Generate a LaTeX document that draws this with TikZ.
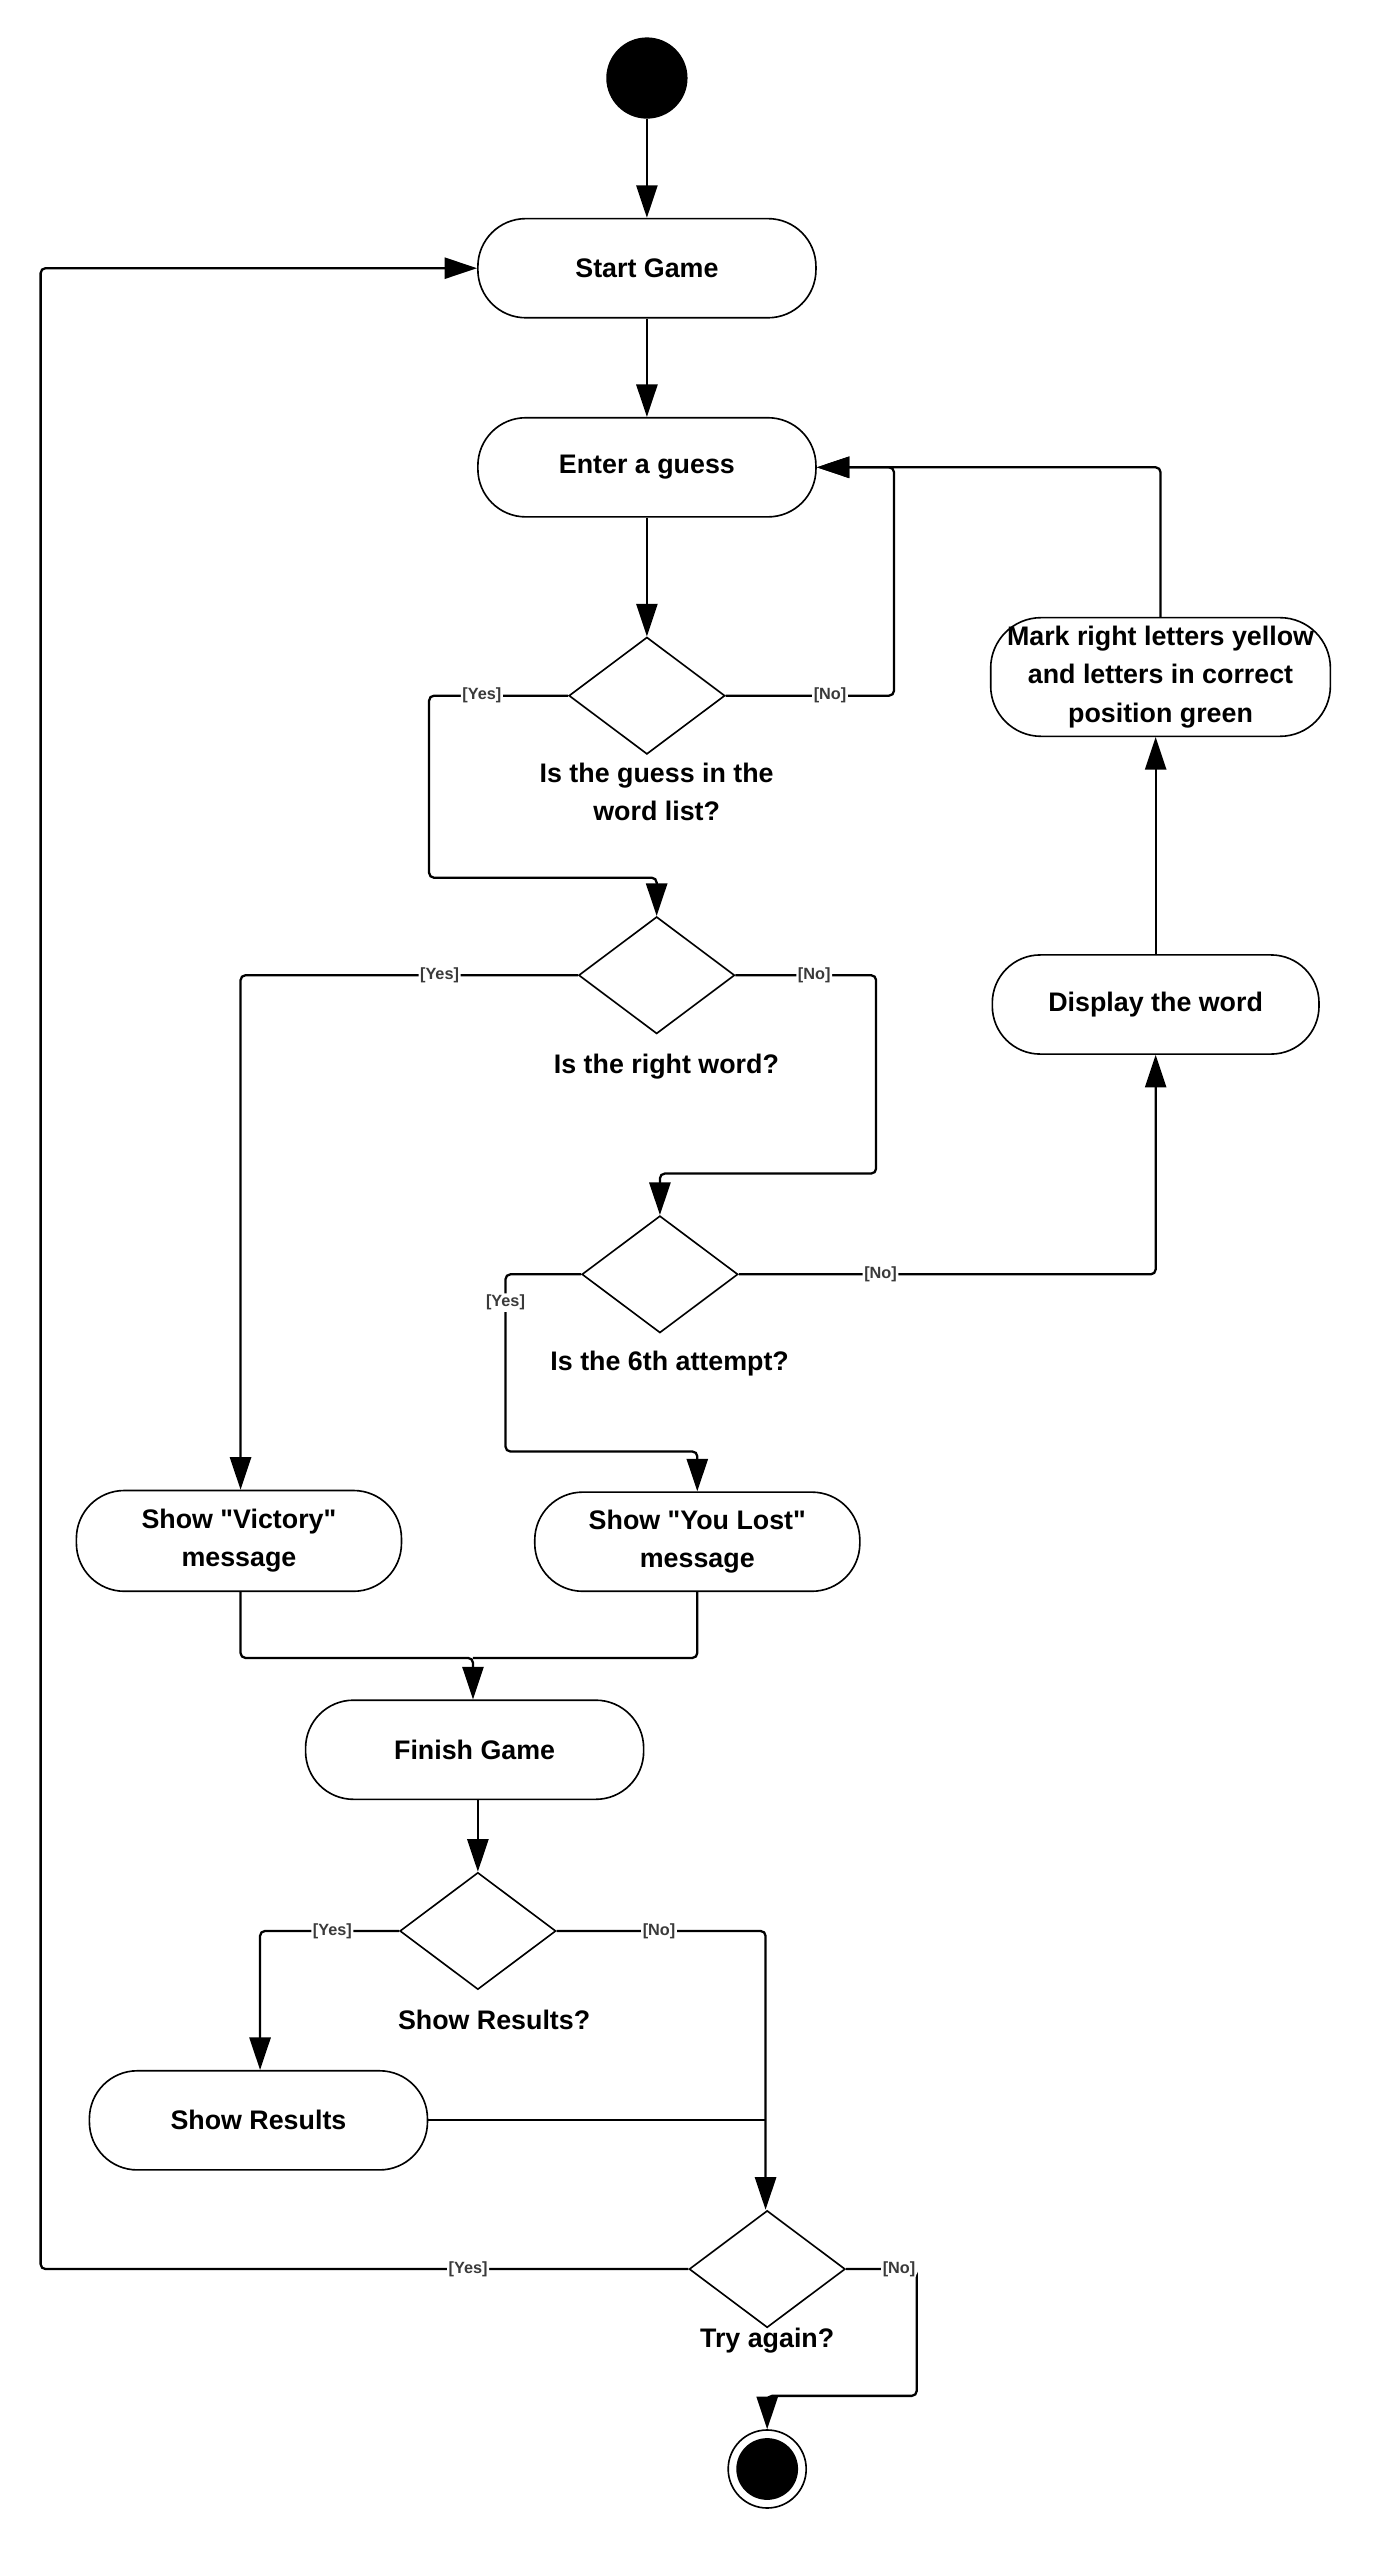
\documentclass[tikz,border=0pt]{standalone}
\usepackage{fontspec}
\setmainfont{Liberation Sans}[Ligatures=TeXOff]
\usetikzlibrary{shapes.geometric,arrows.meta}
\definecolor{lblgray}{HTML}{3A3A3A}
\begin{document}
\begin{tikzpicture}[x=1pt,y=-1pt,
  act/.style={draw, line width=1pt, rectangle, rounded corners=29.5pt, align=center,
    inner sep=0pt, font=\fontsize{16.5}{23.5}\selectfont\bfseries},
  dec/.style={draw, line width=1pt, diamond, minimum width=96pt, minimum height=72pt, inner sep=0pt},
  dectxt/.style={align=center, font=\fontsize{16.5}{23.5}\selectfont\bfseries},
  edge/.style={line width=1.4pt, rounded corners=3pt, -{Triangle[length=20pt,width=13pt]}},
  plain/.style={line width=1.4pt, rounded corners=3pt},
  lbl/.style={fill=white, inner sep=1pt, text=lblgray, font=\fontsize{10}{12}\selectfont\bfseries}]
\useasboundingbox (0,0) rectangle (848,1575);
% nodes
\node[circle, fill=black, minimum size=50pt, inner sep=0pt] (start) at (398,48) {};
\node[act, minimum width=208pt, minimum height=61pt] (startgame) at (398,165) {Start Game};
\node[act, minimum width=208pt, minimum height=61pt] (guess) at (398,287.5) {Enter a guess};
\node[dec] (d1) at (398,428) {};
\node[dectxt] (d1lbl) at (404,487) {Is the guess in the\\word list?};
\node[dec] (d2) at (404,600) {};
\node[dectxt] (d2lbl) at (410,656) {Is the right word?};
\node[dec] (d3) at (406,784) {};
\node[dectxt] (d3lbl) at (412,839) {Is the 6th attempt?};
\node[act, minimum width=201pt, minimum height=61pt] (display) at (711,618) {Display the word};
\node[act, minimum width=209pt, minimum height=73pt, rounded corners=31pt] (mark) at (714,416.5) {Mark right letters yellow\\and letters in correct\\position green};
\node[act, minimum width=200pt, minimum height=62pt] (victory) at (147,948) {Show "Victory"\\message};
\node[act, minimum width=200pt, minimum height=61pt] (lost) at (429,948.5) {Show "You Lost"\\message};
\node[act, minimum width=208pt, minimum height=61pt] (finish) at (292,1076.5) {Finish Game};
\node[dec] (d4) at (294,1188) {};
\node[dectxt] (d4lbl) at (304,1243) {Show Results?};
\node[act, minimum width=208pt, minimum height=61pt] (results) at (159,1304.5) {Show Results};
\node[dec] (d5) at (472,1396) {};
\node[dectxt] (d5lbl) at (472,1440) {Try again?};
\node[circle, draw, line width=1pt, minimum size=48pt, inner sep=0pt] (endc) at (472,1519) {};
\fill (endc.center) circle (19pt);
\coordinate (j1) at (291,1020);
\coordinate (j2) at (471,1304.5);
% edges
\draw[edge] (start) -- (startgame);
\draw[edge] (startgame) -- (guess);
\draw[edge] (guess) -- (d1);
\draw[edge] (d1.east) -- node[lbl,pos=0.62]{[No]} (550,428) |- (guess.east);
\draw[edge] (mark.north) |- (guess.east);
\draw[edge] (d1.west) -- node[lbl,pos=0.62]{[Yes]} (264,428) -- (264,540) -- (404,540) -- (d2.north);
\draw[edge] (d2.west) -- node[lbl,pos=0.41]{[Yes]} (148,600) -- (victory.north -| 148,0);
\draw[edge] (d2.east) -- node[lbl,pos=0.56]{[No]} (539,600) -- (539,722) -- (406,722) -- (d3.north);
\draw[edge] (d3.east) -- node[lbl,pos=0.34]{[No]} (711,784) -- (display.south);
\draw[edge] (d3.west) -- (311,784) -- node[lbl,pos=0.16]{[Yes]} (311,893) -- (429,893) -- (lost.north);
\draw[edge] (display.north) -- (mark.south -| display.north);
\draw[edge] (victory.south -| 148,0) -- (148,1020) -- (j1) -- (finish.north -| j1);
\draw[plain] (lost.south) -- (429,1020) -- (j1);
\draw[edge] (finish.south -| d4.north) -- (d4.north);
\draw[edge] (d4.west) -- node[lbl,pos=0.48]{[Yes]} (160,1188) -- (results.north -| 160,0);
\draw[edge] (d4.east) -- node[lbl,pos=0.49]{[No]} (471,1188) -- (d5.north -| 471,0);
\draw[plain] (results.east) -- (j2);
\draw[edge] (d5.west) -- node[lbl,pos=0.34]{[Yes]} (25,1396) |- (startgame.west);
\draw[edge] (d5.east) -- node[lbl,pos=0.75]{[No]} (564,1396) -- (564,1474) -- (472,1474) -- (endc.north);
\end{tikzpicture}
\end{document}
